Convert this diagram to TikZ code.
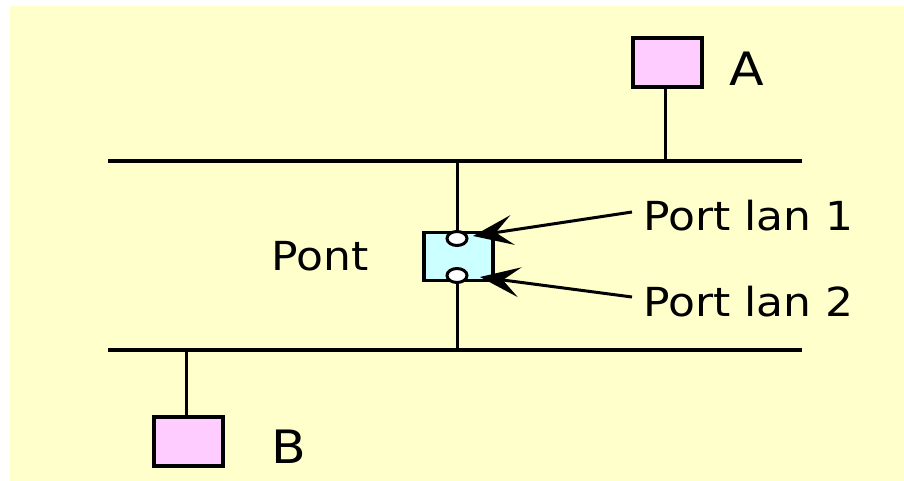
\documentclass[tikz,border=0pt]{standalone}
\usepackage{fontspec}
\setmainfont{DejaVu Sans}[FakeStretch=1.1]
\usetikzlibrary{arrows.meta,shapes.geometric}
\definecolor{bgyellow}{HTML}{FFFFCC}
\definecolor{hostpink}{HTML}{FFCCFF}
\definecolor{bridgecyan}{HTML}{CCFFFF}
\begin{document}
\begin{tikzpicture}[x=1pt,y=-1pt,
  bus/.style={line width=3.6pt},
  wire/.style={line width=3pt},
  hostbox/.style={draw, line width=3.6pt, fill=hostpink, minimum width=69pt, minimum height=49pt, inner sep=0pt},
  bridgebox/.style={draw, line width=3.6pt, fill=bridgecyan, minimum width=69pt, minimum height=48pt, inner sep=0pt},
  portdot/.style={draw, line width=3pt, fill=white, ellipse, minimum width=20pt, minimum height=14pt, inner sep=0pt},
  ptr/.style={line width=3pt, -{Stealth[length=40pt,width=30pt,inset=17pt]}},
  lbl/.style={inner sep=0pt, font=\fontsize{40}{44}\selectfont},
  biglbl/.style={inner sep=0pt, font=\fontsize{46}{50}\selectfont}]
\useasboundingbox (0,0) rectangle (904,481);
\fill[bgyellow] (10,6) rectangle (904,481);
% buses
\coordinate (t1) at (108,161);
\coordinate (t2) at (802,161);
\coordinate (b1) at (108,350);
\coordinate (b2) at (802,350);
\draw[bus] (t1) -- (t2);
\draw[bus] (b1) -- (b2);
% hosts
\node[hostbox] (A) at (667.5,62.5) {};
\node[hostbox] (B) at (188.5,441.5) {};
\coordinate (ta) at (665,161);
\coordinate (bb) at (186,350);
\draw[wire] (ta) -- (A.south -| ta);
\draw[wire] (bb) -- (B.north -| bb);
\node[biglbl, anchor=base west] (la) at (729,86) {A};
\node[biglbl, anchor=base west] (lb) at (271,463) {B};
% bridge
\node[bridgebox] (br) at (458.5,256.5) {};
\coordinate (tb) at (457,161);
\coordinate (bbr) at (457,350);
\draw[wire] (tb) -- (br.north -| tb);
\draw[wire] (br.south -| bbr) -- (bbr);
\node[portdot] (p1) at (457,238.5) {};
\node[portdot] (p2) at (457,275.5) {};
\node[lbl, anchor=base west] (pont) at (271,270) {Pont};
\node[lbl, anchor=base west] (l1) at (643,230) {Port lan 1};
\node[lbl, anchor=base west] (l2) at (643,316) {Port lan 2};
\coordinate (s1) at (632,212);
\coordinate (s2) at (632,297);
\coordinate (e1) at (473,236);
\coordinate (e2) at (480,277);
\draw[ptr] (s1) -- (e1);
\draw[ptr] (s2) -- (e2);
\end{tikzpicture}
\end{document}
